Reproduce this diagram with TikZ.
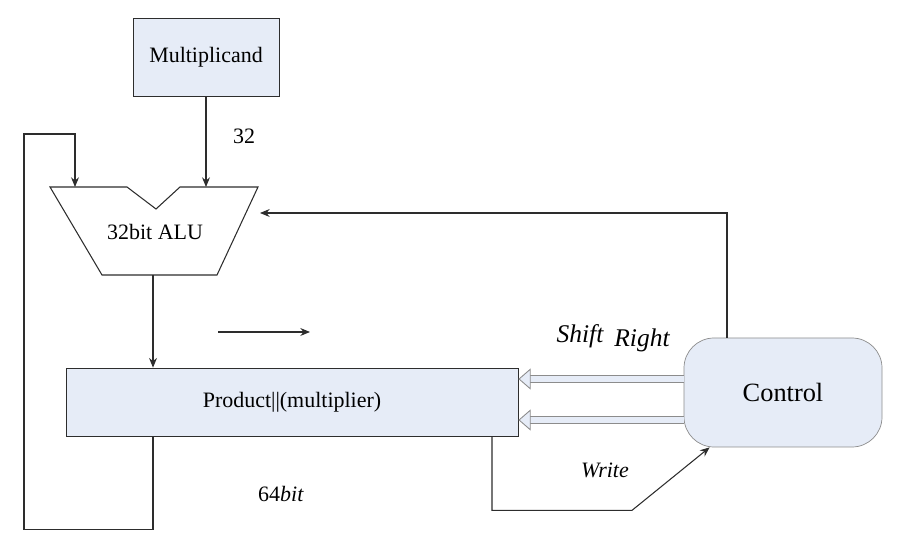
\documentclass[tikz,border=0pt]{standalone}
\usepackage{fontspec}
\setmainfont{Liberation Serif}
\usetikzlibrary{arrows.meta,calc}

\begin{document}
\begin{tikzpicture}
    \definecolor{boxblue}{RGB}{230,236,247}
    \definecolor{linegray}{RGB}{45,45,45}
    \definecolor{hollowgray}{RGB}{140,140,140}
    \newcommand{\txt}[1]{\fontsize{#1}{#1}\selectfont}
    \tikzstyle{edge}  = [semithick,draw=linegray]
    \tikzstyle{dedge} = [semithick,->,>={Stealth[length=5.5pt,width=4.5pt]},draw=linegray]
    \tikzstyle{block}=[
      draw=linegray,
      fill=boxblue,
      anchor=center,
      thin,
      font=\txt{12.5},
    ]
    \tikzstyle{ctrlblock}=[
      block,
      draw=hollowgray,
      rounded corners=0.6cm,
      font=\txt{15},
    ]
    \tikzstyle{hollow}=[
      draw=hollowgray,
      line width=0.5pt,
      double=boxblue,
      double distance=3pt,
      -{Triangle[open,fill=boxblue,length=7pt,width=12pt]},
    ]
    \tikzstyle{lbl}=[font=\txt{12.5}]
    \tikzstyle{slbl}=[font=\txt{14.5}\itshape]

    \useasboundingbox (0,0) rectangle (18.28,-11.04);
    \coordinate (topAnchor) at (0,0);

    % blocks
    {
      \node[block, minimum width=2.92cm, minimum height=1.56cm] (mult) at ([xshift=4.12cm, yshift=-1.14cm] topAnchor) {Multiplicand};
      \node[block, minimum width=9.04cm, minimum height=1.36cm] (prod) at ([xshift=5.84cm, yshift=-8.04cm] topAnchor) {Product||(multiplier)};
      \node[ctrlblock, minimum width=3.96cm, minimum height=2.18cm] (ctrl) at ([xshift=15.66cm, yshift=-7.85cm] topAnchor) {Control};
    }

    % alu
    {
      \coordinate (alu1) at ([xshift=1.00cm, yshift=-3.74cm] topAnchor);
      \coordinate (alu2) at ([xshift=2.54cm, yshift=-3.74cm] topAnchor);
      \coordinate (alu3) at ([xshift=3.12cm, yshift=-4.18cm] topAnchor);
      \coordinate (alu4) at ([xshift=3.60cm, yshift=-3.74cm] topAnchor);
      \coordinate (alu5) at ([xshift=5.16cm, yshift=-3.74cm] topAnchor);
      \coordinate (alu6) at ([xshift=4.34cm, yshift=-5.50cm] topAnchor);
      \coordinate (alu7) at ([xshift=2.04cm, yshift=-5.50cm] topAnchor);
      \draw[edge] (alu1)--(alu2)--(alu3)--(alu4)--(alu5)--(alu6)--(alu7)--cycle;
      \node[lbl] (alu) at ([xshift=3.10cm, yshift=-4.64cm] topAnchor) {32bit ALU};

      \coordinate (aluInA) at ([xshift=1.50cm, yshift=-3.74cm] topAnchor);
      \coordinate (aluOut) at ([xshift=3.06cm, yshift=-5.50cm] topAnchor);
      \coordinate (aluInC) at ([xshift=5.20cm, yshift=-4.26cm] topAnchor);
    }

    % wires
    {
      \draw[dedge] (mult.south)--(mult.south |- alu1);
      \draw[dedge] (aluOut)--(aluOut |- prod.north);
      \draw[dedge] (aluOut |- prod.south)--++(0,-1.86)-|(0.48,-2.68)-|(aluInA);
      \draw[dedge] ([xshift=-1.12cm]ctrl.north)|-(aluInC);
      \draw[dedge] ([xshift=4.00cm]prod.south)--++(0,-1.48)--++(2.80,0)--([xshift=0.52cm]ctrl.south west);

      \coordinate (freeA) at ([xshift=4.36cm, yshift=-6.64cm] topAnchor);
      \coordinate (freeB) at ([xshift=6.20cm, yshift=-6.64cm] topAnchor);
      \draw[dedge] (freeA)--(freeB);

      \draw[hollow] ([yshift=0.27cm]ctrl.west)--([yshift=0.27cm]ctrl.west -| prod.east);
      \draw[hollow] ([yshift=-0.55cm]ctrl.west)--([yshift=-0.55cm]ctrl.west -| prod.east);
    }

    % labels
    {
      \node[lbl] (w32) at ([xshift=4.88cm, yshift=-2.72cm] topAnchor) {32};
      \node[slbl] (shift) at ([xshift=11.60cm, yshift=-6.72cm] topAnchor) {Shift};
      \node[slbl] (right) at ([xshift=12.84cm, yshift=-6.80cm] topAnchor) {Right};
      \node[lbl] (write) at ([xshift=12.10cm, yshift=-9.40cm] topAnchor) {\itshape Write};
      \node[lbl] (w64) at ([xshift=5.62cm, yshift=-9.88cm] topAnchor) {64\textit{bit}};
    }
\end{tikzpicture}
\end{document}
